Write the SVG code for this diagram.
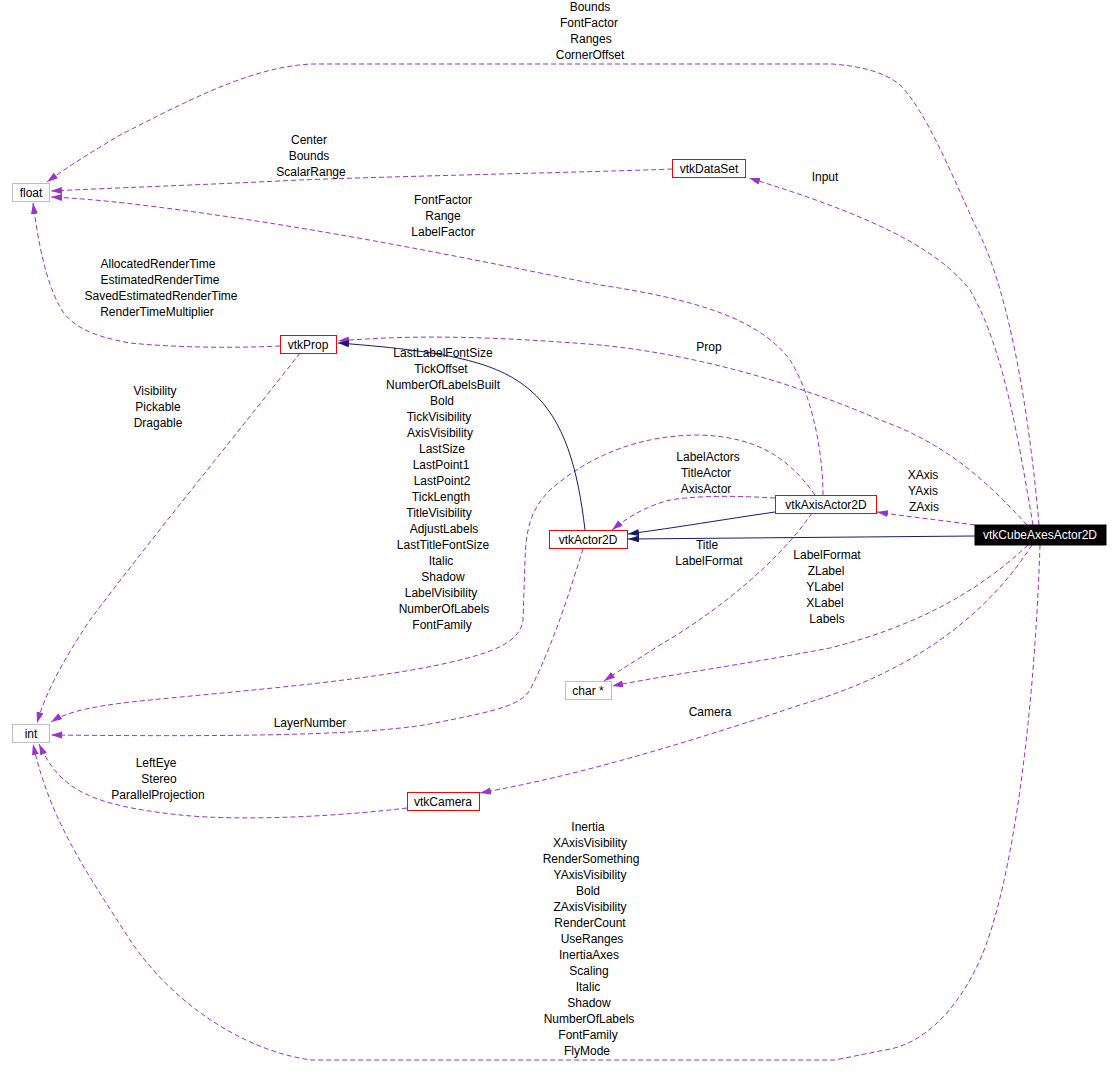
<svg xmlns="http://www.w3.org/2000/svg" width="1120" height="1086" viewBox="0 0 1120 1086">
<style>
text{font-family:"Liberation Sans",Arial,sans-serif;font-size:12px;fill:#000;text-anchor:middle}
.cls rect{fill:#fff;stroke:#ff0000;stroke-width:1}
.prim rect{fill:#fff;stroke:#bfbfbf;stroke-width:1}
.main rect{fill:#000;stroke:#000}
.main text{fill:#fff}
.use{fill:none;stroke:#9a32cd;stroke-width:1;stroke-dasharray:5,3;marker-end:url(#ap)}
.inh{fill:none;stroke:#191970;stroke-width:1;marker-end:url(#an)}
</style>
<defs>
<marker id="ap" markerUnits="userSpaceOnUse" markerWidth="12" markerHeight="8" refX="11" refY="3.5" orient="auto"><path d="M0,0 L11,3.5 L0,7 z" fill="#9a32cd"/></marker>
<marker id="an" markerUnits="userSpaceOnUse" markerWidth="12" markerHeight="8" refX="11" refY="3.5" orient="auto"><path d="M0,0 L11,3.5 L0,7 z" fill="#191970"/></marker>
</defs>
<rect width="1120" height="1086" fill="#fff"/>
<g id="connectors">
<path class="use" d="M1039,525 C1030,420 1010,290 975,225 C950,170 925,110 900,85 C885,72 860,66 832,64 L313,64 C250,66 180,105 120,135 C95,150 70,165 47,182"/>
<path class="use" d="M672,169 C600,172 400,176 300,180 C200,185 110,188 51,191"/>
<path class="use" d="M823,495 C823,460 815,400 790,360 C760,320 700,300 600,285 C500,265 380,240 250,220 C150,205 95,199 51,197"/>
<path class="use" d="M280,346 C240,348 180,348 130,343 C90,336 70,325 60,307 C45,280 38,240 33,203"/>
<path class="use" d="M1033,525 C1020,450 1005,350 970,290 C935,245 860,212 749,178"/>
<path class="use" d="M1027,525 C990,485 950,445 880,420 C800,385 700,355 600,345 C500,337 420,334 338,341"/>
<path class="use" d="M300,353 C240,430 150,540 90,620 C60,665 45,695 37,723"/>
<path class="use" d="M815,495 C790,460 760,437 700,435 C640,435 590,455 550,490 C530,510 526,530 525,560 L523,620 C520,640 500,650 460,660 C380,680 250,690 150,700 C100,705 70,710 51,722"/>
<path class="use" d="M583,549 C570,590 555,640 530,690 C520,705 500,710 440,722 C380,735 250,737 51,735"/>
<path class="use" d="M407,808 C350,815 250,822 180,815 C90,805 60,790 39,744"/>
<path class="use" d="M1040,545 C1035,700 1015,880 980,960 C955,1015 920,1045 885,1050 L835,1060 L311,1060 C240,1050 170,1000 130,940 C85,870 50,820 33,744"/>
<path class="use" d="M775,498 C740,496 700,495 670,500 C650,505 630,515 612,530"/>
<path class="use" d="M812,513 C780,560 720,610 660,645 C640,658 620,670 604,681"/>
<path class="use" d="M1028,545 C980,590 920,625 830,648 C740,665 680,673 612,686"/>
<path class="use" d="M1032,545 C990,610 920,670 800,705 C680,745 580,775 480,793"/>
<path class="use" d="M975,525 C940,520 910,517 877,512"/>
<path class="inh" d="M585,530 C578,470 565,420 530,390 C500,365 460,352 338,343"/>
<path class="inh" d="M775,512 C720,520 680,527 628,534"/>
<path class="inh" d="M975,536 L628,539"/>
</g>
<g id="labels">
<text x="590" y="11">Bounds</text>
<text x="589" y="27">FontFactor</text>
<text x="591" y="43">Ranges</text>
<text x="590" y="59">CornerOffset</text>
<text x="309" y="144">Center</text>
<text x="309" y="160">Bounds</text>
<text x="311" y="176">ScalarRange</text>
<text x="825" y="181">Input</text>
<text x="443" y="204">FontFactor</text>
<text x="443" y="220">Range</text>
<text x="443" y="236">LabelFactor</text>
<text x="158" y="268">AllocatedRenderTime</text>
<text x="160" y="284">EstimatedRenderTime</text>
<text x="161" y="300">SavedEstimatedRenderTime</text>
<text x="157" y="316">RenderTimeMultiplier</text>
<text x="709" y="351">Prop</text>
<text x="155" y="395">Visibility</text>
<text x="158" y="411">Pickable</text>
<text x="158" y="427">Dragable</text>
<text x="443" y="357">LastLabelFontSize</text>
<text x="441" y="373">TickOffset</text>
<text x="443" y="389">NumberOfLabelsBuilt</text>
<text x="442" y="405">Bold</text>
<text x="439" y="421">TickVisibility</text>
<text x="440" y="437">AxisVisibility</text>
<text x="442" y="453">LastSize</text>
<text x="441" y="469">LastPoint1</text>
<text x="442" y="485">LastPoint2</text>
<text x="441" y="501">TickLength</text>
<text x="439" y="517">TitleVisibility</text>
<text x="444" y="533">AdjustLabels</text>
<text x="443" y="549">LastTitleFontSize</text>
<text x="441" y="565">Italic</text>
<text x="443" y="581">Shadow</text>
<text x="441" y="597">LabelVisibility</text>
<text x="444" y="613">NumberOfLabels</text>
<text x="442" y="629">FontFamily</text>
<text x="708" y="461">LabelActors</text>
<text x="706" y="477">TitleActor</text>
<text x="706" y="493">AxisActor</text>
<text x="923" y="479">XAxis</text>
<text x="923" y="495">YAxis</text>
<text x="924" y="511">ZAxis</text>
<text x="707" y="549">Title</text>
<text x="709" y="565">LabelFormat</text>
<text x="827" y="559">LabelFormat</text>
<text x="826" y="575">ZLabel</text>
<text x="825" y="591">YLabel</text>
<text x="825" y="607">XLabel</text>
<text x="827" y="623">Labels</text>
<text x="310" y="727">LayerNumber</text>
<text x="710" y="716">Camera</text>
<text x="156" y="767">LeftEye</text>
<text x="159" y="783">Stereo</text>
<text x="158" y="799">ParallelProjection</text>
<text x="588" y="831">Inertia</text>
<text x="590" y="847">XAxisVisibility</text>
<text x="591" y="863">RenderSomething</text>
<text x="590" y="879">YAxisVisibility</text>
<text x="588" y="895">Bold</text>
<text x="590" y="911">ZAxisVisibility</text>
<text x="590" y="927">RenderCount</text>
<text x="592" y="943">UseRanges</text>
<text x="589" y="959">InertiaAxes</text>
<text x="589" y="975">Scaling</text>
<text x="588" y="991">Italic</text>
<text x="589" y="1007">Shadow</text>
<text x="589" y="1023">NumberOfLabels</text>
<text x="588" y="1039">FontFamily</text>
<text x="587" y="1055">FlyMode</text>
</g>
<g id="node-float" class="prim"><rect x="12.5" y="183.5" width="37" height="18"/><text x="31" y="197">float</text></g>
<g id="node-int" class="prim"><rect x="12.5" y="724.5" width="37" height="18"/><text x="31" y="738">int</text></g>
<g id="node-char" class="prim"><rect x="565.5" y="681.5" width="46" height="18"/><text x="588" y="695">char *</text></g>
<g id="node-vtkDataSet" class="cls"><rect x="672.5" y="159.5" width="73" height="18"/><text x="709" y="173">vtkDataSet</text></g>
<g id="node-vtkProp" class="cls"><rect x="280.5" y="335.5" width="56" height="18"/><text x="308" y="349">vtkProp</text></g>
<g id="node-vtkAxisActor2D" class="cls"><rect x="775.5" y="495.5" width="101" height="18"/><text x="826" y="509">vtkAxisActor2D</text></g>
<g id="node-vtkActor2D" class="cls"><rect x="549.5" y="530.5" width="78" height="18"/><text x="588" y="544">vtkActor2D</text></g>
<g id="node-vtkCamera" class="cls"><rect x="407.5" y="792.5" width="72" height="18"/><text x="443" y="806">vtkCamera</text></g>
<g id="node-vtkCubeAxesActor2D" class="main"><rect x="975" y="525" width="131" height="20"/><text x="1040" y="539">vtkCubeAxesActor2D</text></g>
</svg>
